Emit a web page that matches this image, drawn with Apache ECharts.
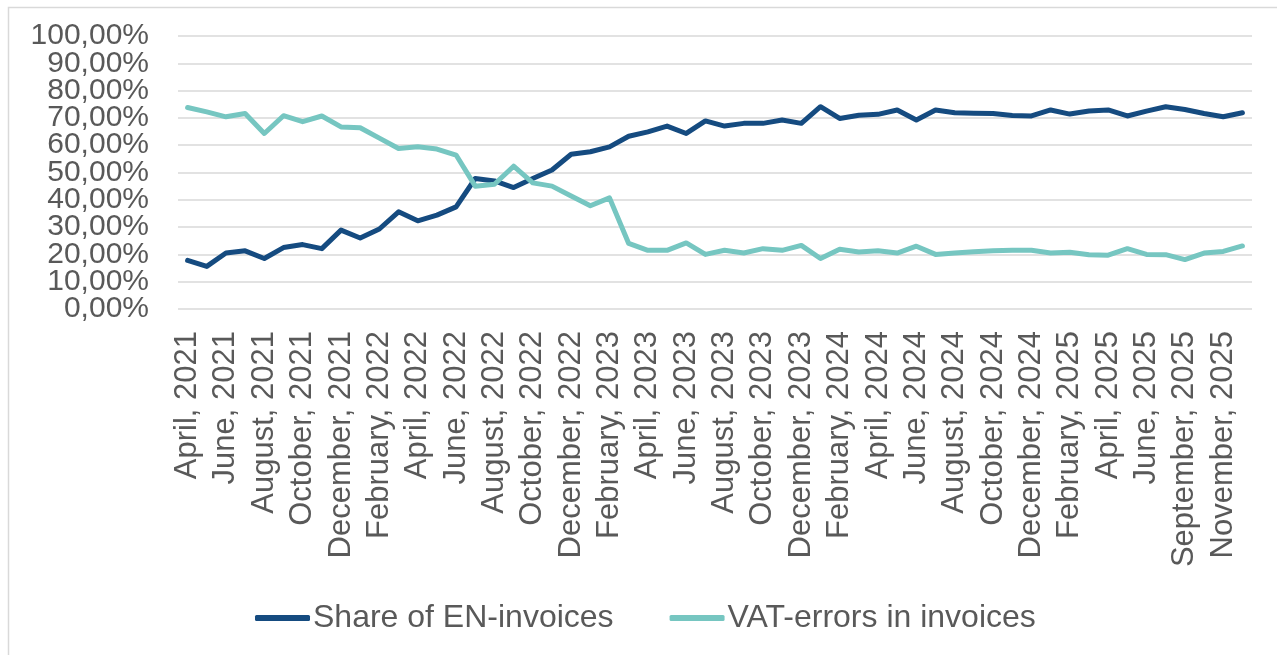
<!DOCTYPE html>
<html>
<head>
<meta charset="utf-8">
<script src="https://cdn.jsdelivr.net/npm/echarts@6/dist/echarts.min.js"></script>
<style>
html,body{margin:0;padding:0;background:#fff;}
#c{width:1277px;height:655px;}
</style>
</head>
<body>
<div id="c"></div>
<script>
const categories = [
  "April, 2021","May, 2021","June, 2021","July, 2021","August, 2021","September, 2021","October, 2021","November, 2021","December, 2021",
  "January, 2022","February, 2022","March, 2022","April, 2022","May, 2022","June, 2022","July, 2022","August, 2022","September, 2022","October, 2022","November, 2022","December, 2022",
  "January, 2023","February, 2023","March, 2023","April, 2023","May, 2023","June, 2023","July, 2023","August, 2023","September, 2023","October, 2023","November, 2023","December, 2023",
  "January, 2024","February, 2024","March, 2024","April, 2024","May, 2024","June, 2024","July, 2024","August, 2024","September, 2024","October, 2024","November, 2024","December, 2024",
  "January, 2025","February, 2025","March, 2025","April, 2025","May, 2025","June, 2025","August, 2025","September, 2025","October, 2025","November, 2025","December, 2025"
];
const shareEN = [
  17.8,15.6,20.5,21.3,18.5,22.5,23.6,22.1,28.9,
  26.0,29.3,35.6,32.3,34.4,37.4,47.8,46.9,44.5,47.8,50.9,56.7,
  57.6,59.4,63.3,64.9,67.0,64.3,68.9,67.0,68.0,68.0,69.2,68.0,
  74.1,69.8,71.0,71.3,72.9,69.2,72.9,71.9,71.7,71.6,70.9,70.7,
  72.9,71.4,72.5,72.9,70.7,72.5,74.1,73.1,71.6,70.4,71.9
];
const vatErrors = [
  73.8,72.2,70.4,71.6,64.3,70.8,68.6,70.7,66.7,
  66.4,62.6,58.8,59.4,58.6,56.4,45.0,45.7,52.3,46.2,45.0,41.4,
  37.8,40.7,24.0,21.5,21.5,24.2,20.0,21.5,20.5,22.1,21.5,23.3,
  18.5,21.9,20.9,21.3,20.5,23.0,20.0,20.5,21.0,21.3,21.5,21.5,
  20.5,20.8,19.9,19.7,22.1,20.0,19.9,18.1,20.5,21.1,23.1
];
const seriesNames = ["Share of EN-invoices","VAT-errors in invoices"];
const yTickLabels = ["0,00%","10,00%","20,00%","30,00%","40,00%","50,00%","60,00%","70,00%","80,00%","90,00%","100,00%"];

const FONT = '"Liberation Sans", Arial, sans-serif';
const TXT = '#595959';
const labelFor = v => yTickLabels[Math.round(v/10)] || '';
const chart = echarts.init(document.getElementById('c'), null, {renderer:'canvas'});
chart.setOption({
  animation:false,
  backgroundColor:'#ffffff',
  graphic:[{
    type:'rect', left:6, top:5, silent:true,
    shape:{x:0,y:0,width:1400,height:800},
    style:{fill:'none', stroke:'#d9d9d9', lineWidth:1.5}
  }],
  grid:{left:178, right:25, top:36, bottom:346, containLabel:false},
  legend:{
    left:250, top:597,
    icon:'roundRect', itemWidth:55, itemHeight:6, itemGap:56,
    textStyle:{fontFamily:FONT, fontSize:32, color:TXT, padding:[0,0,0,-2]},
    data:seriesNames
  },
  xAxis:{
    type:'category', data:categories, boundaryGap:true,
    axisLine:{show:false}, axisTick:{show:false},
    axisLabel:{rotate:90, interval:1, margin:22, fontFamily:FONT, fontSize:31, color:TXT}
  },
  yAxis:[{
    type:'value', min:0, max:100, interval:10, position:'left',
    axisLine:{show:false}, axisTick:{show:false},
    splitLine:{lineStyle:{color:'#d9d9d9', width:1.5}},
    axisLabel:{margin:29, fontFamily:FONT, fontSize:30, color:TXT,
      formatter:v=>(Math.round(v/10)%2===0 ? labelFor(v) : '')}
  },{
    type:'value', min:0, max:100, interval:10, position:'left', offset:0,
    axisLine:{show:false}, axisTick:{show:false}, splitLine:{show:false},
    axisLabel:{margin:29, fontFamily:FONT, fontSize:30, color:TXT,
      showMinLabel:false, showMaxLabel:false,
      formatter:v=>(Math.round(v/10)%2===1 ? labelFor(v) : '')}
  }],
  series:[
    {name:seriesNames[0], type:'line', data:shareEN, symbol:'none', color:'#154b80',
     lineStyle:{width:5, color:'#154b80', cap:'round', join:'round'}},
    {name:seriesNames[1], type:'line', data:vatErrors, symbol:'none', color:'#76c6c1',
     lineStyle:{width:5, color:'#76c6c1', cap:'round', join:'round'}}
  ]
});
</script>
</body>
</html>
